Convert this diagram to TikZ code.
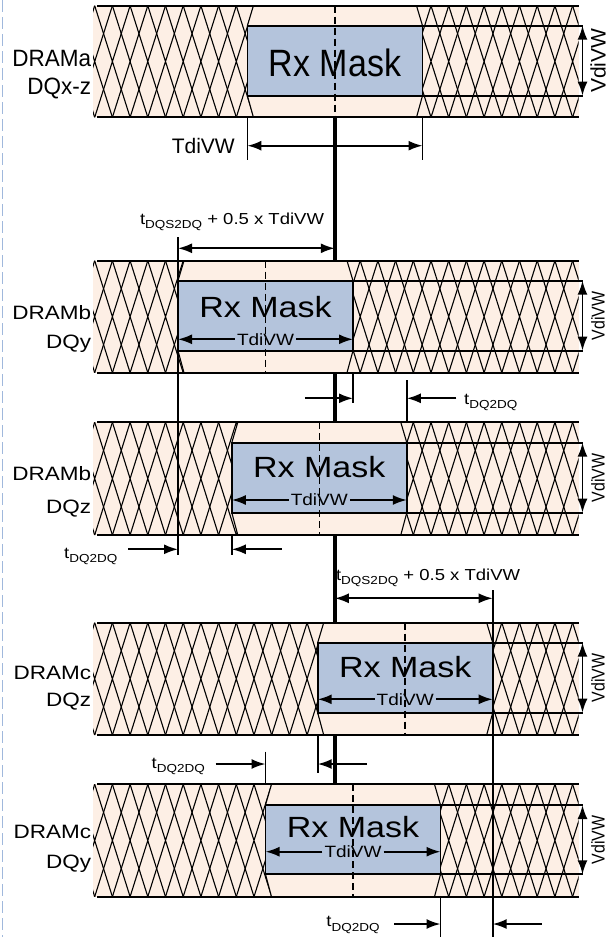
\documentclass[tikz,border=0pt]{standalone}
\usepackage{fontspec}
\usepackage{graphicx}
\setmainfont{Liberation Sans}
\usetikzlibrary{arrows.meta}
\definecolor{peach}{RGB}{253,239,229}
\definecolor{maskblue}{RGB}{180,196,220}
\definecolor{edgeblue}{RGB}{160,184,220}
\newcommand\fLabel{\fontsize{22.5}{24}\selectfont}
\newcommand\fMask{\fontsize{34}{36}\selectfont}
\newcommand\fSmall{\fontsize{18.5}{20}\selectfont}
\newcommand\fSubs{\fontsize{13.5}{14}\selectfont}
\newcommand\fInner{\fontsize{19}{20}\selectfont}
\newcommand\sq[1]{\scalebox{1}[0.86]{#1}}
\newcommand\tq[1]{t\raisebox{-5pt}{\fSubs #1}}
\tikzset{
  bandline/.style={line width=2pt},
  hatchline/.style={line width=1.1pt},
  maskline/.style={line width=1.8pt},
  maskbox/.style={draw, line width=1.8pt, fill=maskblue},
  dimline/.style={line width=1.7pt},
  dimarrow/.style={line width=1.9pt, -{Latex[length=14pt,width=10pt]}},
  dimboth/.style={line width=1.9pt, {Latex[length=14pt,width=10pt]}-{Latex[length=14pt,width=10pt]}},
  centerdash/.style={line width=1.5pt, dash pattern=on 7pt off 4pt},
  strobe/.style={line width=3.5pt},
  lbl/.style={font=\fLabel, inner sep=0pt, anchor=east},
  rxtext/.style={font=\fMask, inner sep=0pt},
  small/.style={font=\fSmall, inner sep=0pt},
  inner/.style={font=\fInner, inner sep=2pt},
  vlab/.style={font=\fSmall, inner sep=0pt, rotate=90},
}
% #1 id, #2 top, #3 bottom, #4 mask left, #5 mask right, #6 mask top, #7 mask bottom
\newcommand\DrawBand[7]{%
  \coordinate (bt#1) at (93.2,#2);
  \coordinate (bb#1) at (578.6,#3);
  \fill[peach] (bt#1) rectangle (bb#1);
  \begin{scope}
    \clip (bt#1) rectangle (bb#1);
    \foreach \k in {-3,...,30}{
      \draw[hatchline] ({77+\k*17.7},#2) -- ({112.4+\k*17.7},#3)
                       ({112.4+\k*17.7},#2) -- ({77+\k*17.7},#3);
    }
  \end{scope}
  \coordinate (mtl#1) at (#4,#6);
  \coordinate (mbl#1) at (#4,#7);
  \coordinate (mtr#1) at (#5,#6);
  \coordinate (mbr#1) at (#5,#7);
  \fill[peach] ({#4+6},#2) -- (mtl#1) -- (mbl#1) -- ({#4+6},#3) -- ({#5-6},#3)
     -- (mbr#1) -- (mtr#1) -- ({#5-6},#2) -- cycle;
  \draw[hatchline] ({#4+6},#2) -- (mtl#1) (mbl#1) -- ({#4+6},#3)
                   ({#5-6},#2) -- (mtr#1) (mbr#1) -- ({#5-6},#3);
  \draw[bandline] (97.1,#2) -- (578.6,#2) (97.1,#3) -- (578.6,#3);
  \coordinate (vt#1) at (582.5,#6);
  \coordinate (vb#1) at (582.5,#7);
  \draw[maskline] (mtl#1) -- (vt#1) (mbl#1) -- (vb#1);
  \draw[maskbox] (mtl#1) rectangle (mbr#1);
  \draw[dimboth] (vt#1) -- (vb#1);
  \coordinate (ct#1) at ({(#4+#5)/2},#2);
  \coordinate (cb#1) at ({(#4+#5)/2},#3);
  \draw[centerdash] (ct#1) -- (cb#1);
}
\begin{document}
\begin{tikzpicture}[x=1pt,y=-1pt]
\useasboundingbox (0,0) rectangle (609,937);
\draw[edgeblue, line width=1.8pt, dash pattern=on 12pt off 5pt] (2.5,0) -- (2.5,937);
% strobe reference line (behind the bands)
\coordinate (s0) at (334.8,117.3);
\coordinate (s1) at (334.8,784.3);
\draw[strobe] (s0) -- (s1);

% ---------------- band 1
\DrawBand{1}{5.7}{117.3}{247.4}{422.5}{25.7}{95.7}
\node[lbl] (n1a) at (91.3,58.3) {\scalebox{1}[1.05]{DRAMa}};
\node[lbl] (n1b) at (91.3,88.3) {\scalebox{1}[1.05]{DQx-z}};
\node[rxtext] (rx1) at (334.95,63.3) {\scalebox{1}[1.12]{Rx Mask}};
\node[vlab, font=\fontsize{21}{22}\selectfont] (vv1) at (598,60.7) {VdiVW};
\coordinate (d1l) at (247.4,160);
\coordinate (d1r) at (422.5,160);
\draw[dimline] (mbl1 |- bb1) -- (d1l) (mbr1 |- bb1) -- (d1r);
\draw[dimboth] (247.4,145.7) -- (422.5,145.7);
\node[small, anchor=east, font=\fontsize{21}{22}\selectfont] (tw1) at (235,146) {TdiVW};

% ---------------- band 2
\DrawBand{2}{260.7}{372.7}{178}{353}{280.7}{350.7}
\node[lbl] (n2a) at (91.3,312.3) {\sq{DRAMb}};
\node[lbl] (n2b) at (91.3,343.3) {\sq{DQy}};
\node[rxtext] (rx2) at (265.5,306.7) {\sq{Rx Mask}};
\node[inner] (tw2) at (265.5,339.3) {\sq{TdiVW}};
\draw[dimarrow] (tw2.west) -- (tw2.west -| mbl2);
\draw[dimarrow] (tw2.east) -- (tw2.east -| mbr2);
\node[vlab] (vv2) at (598,315.7) {\scalebox{0.86}[1]{VdiVW}};

% tDQS2DQ + 0.5 x TdiVW (upper)
\node[small, anchor=base west] (q1) at (139.8,224) {\sq{\tq{DQS2DQ} + 0.5 x TdiVW}};
\coordinate (a2t) at (178,237.3);
\coordinate (a3b) at (178,555);
\coordinate (q1l) at (178,248.3);
\coordinate (q1r) at (334.8,248.3);
\draw[dimboth] (q1l) -- (q1r);

% below band 2
\coordinate (e2t) at (353,372.7);
\coordinate (e2b) at (353,403.3);
\coordinate (f3t) at (406.8,380);
\coordinate (f3b) at (406.8,422.3);
\draw[dimline] (e2t) -- (e2b) (f3t) -- (f3b);
\coordinate (g2a) at (304.9,398.3);
\coordinate (g2b) at (353,398.3);
\coordinate (g2c) at (456.3,398.3);
\coordinate (g2d) at (406.8,398.3);
\draw[dimarrow] (g2a) -- (g2b);
\draw[dimarrow] (g2c) -- (g2d);
\node[small, anchor=base west] (t2) at (464,404) {\sq{\tq{DQ2DQ}}};

% ---------------- band 3
\DrawBand{3}{422.3}{535}{231.8}{406.8}{442.7}{512.7}
\node[lbl] (n3a) at (91.3,473.3) {\sq{DRAMb}};
\node[lbl] (n3b) at (91.3,508.3) {\sq{DQz}};
\node[rxtext] (rx3) at (319.3,466.7) {\sq{Rx Mask}};
\node[inner] (tw3) at (319.3,500) {\sq{TdiVW}};
\draw[dimarrow] (tw3.west) -- (tw3.west -| mbl3);
\draw[dimarrow] (tw3.east) -- (tw3.east -| mbr3);
\node[vlab] (vv3) at (598,477.7) {\scalebox{0.86}[1]{VdiVW}};
\draw[dimline] (a2t) -- (a3b);

% below band 3
\coordinate (h3t) at (231.8,535);
\coordinate (h3b) at (231.8,555);
\draw[dimline] (h3t) -- (h3b);
\coordinate (k3a) at (128.2,549.3);
\coordinate (k3b) at (178,549.3);
\coordinate (k3c) at (281.6,549.3);
\coordinate (k3d) at (231.8,549.3);
\draw[dimarrow] (k3a) -- (k3b);
\draw[dimarrow] (k3c) -- (k3d);
\node[small, anchor=base west] (t3) at (64,558) {\sq{\tq{DQ2DQ}}};

% tDQS2DQ + 0.5 x TdiVW (lower)
\node[small, anchor=base west] (q2) at (335.9,580) {\sq{\tq{DQS2DQ} + 0.5 x TdiVW}};
\coordinate (q2l) at (334.8,598.3);
\coordinate (q2r) at (492.7,598.3);
\draw[dimboth] (q2l) -- (q2r);
\coordinate (p4t) at (492.7,590);
\coordinate (p5b) at (492.7,937);

% ---------------- band 4
\DrawBand{4}{622.7}{735}{317.7}{492.7}{642.7}{712.7}
\node[lbl] (n4a) at (91.3,673.3) {\sq{DRAMc}};
\node[lbl] (n4b) at (91.3,701.7) {\sq{DQz}};
\node[rxtext] (rx4) at (405.2,666.7) {\sq{Rx Mask}};
\node[inner] (tw4) at (405.2,699.3) {\sq{TdiVW}};
\draw[dimarrow] (tw4.west) -- (tw4.west -| mbl4);
\draw[dimarrow] (tw4.east) -- (tw4.east -| mbr4);
\node[vlab] (vv4) at (598,677.7) {\scalebox{0.86}[1]{VdiVW}};

% below band 4
\coordinate (r4t) at (317.7,735);
\coordinate (r4b) at (317.7,773);
\coordinate (u5t) at (265.5,751.7);
\coordinate (u5b) at (265.5,784.3);
\draw[dimline] (r4t) -- (r4b) (u5t) -- (u5b);
\coordinate (w4a) at (215.5,764);
\coordinate (w4b) at (265.5,764);
\coordinate (w4c) at (367,764);
\coordinate (w4d) at (317.7,764);
\draw[dimarrow] (w4a) -- (w4b);
\draw[dimarrow] (w4c) -- (w4d);
\node[small, anchor=base west] (t4) at (151.5,768) {\sq{\tq{DQ2DQ}}};

% ---------------- band 5
\DrawBand{5}{784.3}{896.7}{265.5}{440.5}{805}{874.3}
\node[lbl] (n5a) at (91.3,831.7) {\sq{DRAMc}};
\node[lbl] (n5b) at (91.3,863.3) {\sq{DQy}};
\node[rxtext] (rx5) at (353,826.7) {\sq{Rx Mask}};
\node[inner] (tw5) at (353,851.7) {\sq{TdiVW}};
\draw[dimarrow] (tw5.west) -- (tw5.west -| mbl5);
\draw[dimarrow] (tw5.east) -- (tw5.east -| mbr5);
\node[vlab] (vv5) at (598,839.7) {\scalebox{0.86}[1]{VdiVW}};
\draw[dimline] (p4t) -- (p5b);

% below band 5
\coordinate (z5t) at (440.5,896.7);
\coordinate (z5b) at (440.5,937);
\draw[dimline] (z5t) -- (z5b);
\coordinate (y5a) at (394.2,924);
\coordinate (y5b) at (440.5,924);
\coordinate (y5c) at (541.7,924);
\coordinate (y5d) at (492.7,924);
\draw[dimarrow] (y5a) -- (y5b);
\draw[dimarrow] (y5c) -- (y5d);
\node[small, anchor=base west] (t5) at (326.2,926.7) {\sq{\tq{DQ2DQ}}};
\end{tikzpicture}
\end{document}
